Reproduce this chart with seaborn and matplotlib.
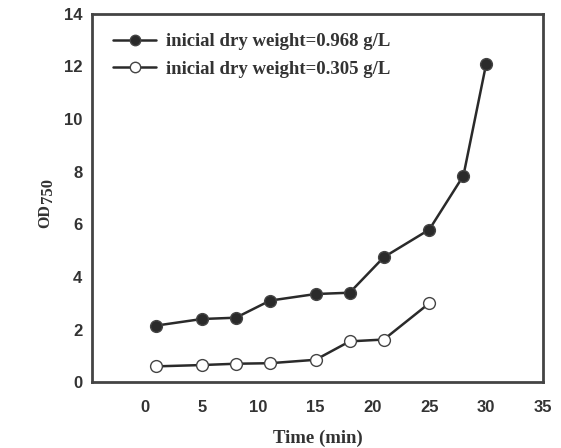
import numpy as np
import pandas as pd
import matplotlib
matplotlib.use('Agg')
import matplotlib.pyplot as plt
import seaborn as sns

# data
time_high = [1, 5, 8, 11, 15, 18, 21, 25, 28, 30]
od_high = [2.15, 2.4, 2.45, 3.1, 3.35, 3.4, 4.75, 5.8, 7.85, 12.1]
time_low = [1, 5, 8, 11, 15, 18, 21, 25]
od_low = [0.6, 0.65, 0.7, 0.72, 0.85, 1.55, 1.62, 3.0]
labels = ['inicial dry weight=0.968 g/L', 'inicial dry weight=0.305 g/L']
x_ticks = [0, 5, 10, 15, 20, 25, 30, 35]
y_ticks = [0, 2, 4, 6, 8, 10, 12, 14]

df = pd.concat([
    pd.DataFrame({'time': time_high, 'od': od_high, 'series': labels[0]}),
    pd.DataFrame({'time': time_low, 'od': od_low, 'series': labels[1]}),
])

sns.set_style('white')

fig = plt.figure(figsize=(5.61, 4.48), dpi=100)
ax = fig.add_axes([0.164, 0.147, 0.804, 0.822])

line_col = '#2a2a2a'
for lab, face in zip(labels, ['#2a2a2a', 'white']):
    sub = df[df['series'] == lab]
    sns.lineplot(data=sub, x='time', y='od', ax=ax, color=line_col, lw=1.8,
                 marker='o', markersize=8.5, markerfacecolor=face,
                 markeredgecolor='#444444', markeredgewidth=1.0, label=lab)

ax.set_xlim(-4.65, 35)
ax.set_ylim(0, 14)
ax.set_xticks(x_ticks)
ax.set_yticks(y_ticks)
ax.tick_params(direction='out', length=3, width=0.8, colors='#999999',
               labelcolor='#333333', labelsize=12, pad=4)
for t in ax.get_xticklabels() + ax.get_yticklabels():
    t.set_family('Liberation Sans')
    t.set_fontweight('bold')
ax.tick_params(axis='x', pad=10)

for s in ax.spines.values():
    s.set_linewidth(2.0)
    s.set_color('#444444')

ax.set_xlabel('Time (min)', family='Liberation Serif', fontweight='bold',
              fontsize=13.5, color='#333333')
ax.xaxis.set_label_coords(0.5, -0.128)

# y label: "OD" followed by a near full-size, slightly lowered "750"
ax.set_ylabel('')
ylab_font = dict(family='Liberation Serif', fontweight='bold', color='#333333',
                 rotation=90, ha='center', va='bottom')
od = ax.text(-0.104, 0.418, 'OD', fontsize=11.5, transform=ax.transAxes,
             **ylab_font)
ax.annotate('750', xy=(0.5, 1), xycoords=od, xytext=(2, 1),
            textcoords='offset points', fontsize=12, **ylab_font)

leg = ax.legend(loc='upper left', frameon=False, handlelength=2.3,
                handletextpad=0.5, borderpad=0, borderaxespad=0,
                labelspacing=0.55,
                prop={'family': 'Liberation Serif', 'weight': 'bold', 'size': 13.5},
                bbox_to_anchor=(0.047, 0.948))
for h in leg.legend_handles:
    h.set_markersize(7.5)
for t in leg.get_texts():
    t.set_color('#333333')

fig.savefig('out.png', dpi=100)
